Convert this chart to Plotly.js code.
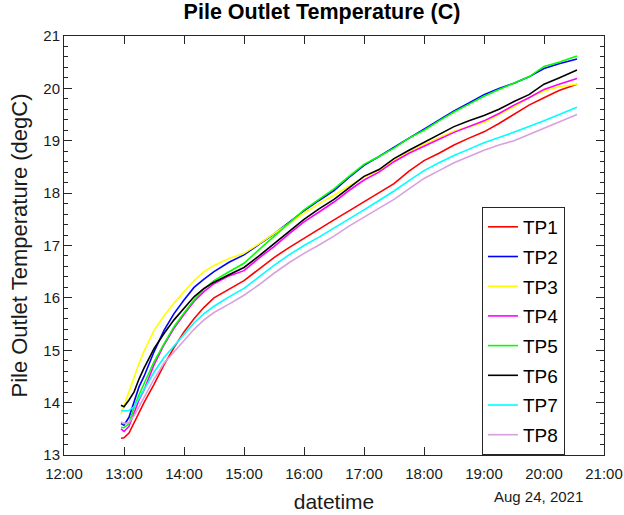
<!DOCTYPE html>
<html>
<head>
<meta charset="utf-8">
<script src="https://cdn.plot.ly/plotly-3.0.1.min.js"></script>
<style>html,body{margin:0;padding:0;background:#fff;}#chart{width:624px;height:515px;}</style>
</head>
<body>
<div id="chart"></div>
<script>
const times = ["12:57","13:00","13:05","13:10","13:15","13:20","13:30","13:40","13:50","14:00","14:10","14:20","14:30","14:45","15:00","15:15","15:30","15:45","16:00","16:15","16:30","16:45","17:00","17:15","17:30","17:45","18:00","18:15","18:30","18:45","19:00","19:15","19:30","19:45","20:00","20:15","20:33"];
const seriesNames = ["TP1","TP2","TP3","TP4","TP5","TP6","TP7","TP8"];
const seriesColors = ["#ff0000","#0000ff","#ffff00","#ff00ff","#00ff00","#000000","#00ffff","#d9a0de"];
const TP1 = [13.32,13.33,13.42,13.62,13.80,14.00,14.35,14.72,15.05,15.35,15.60,15.82,16.00,16.17,16.33,16.55,16.77,16.96,17.14,17.31,17.49,17.66,17.83,18.00,18.18,18.42,18.62,18.76,18.92,19.05,19.17,19.33,19.50,19.68,19.82,19.96,20.08];
const TP2 = [13.60,13.57,13.72,14.02,14.30,14.50,14.97,15.38,15.70,15.96,16.20,16.36,16.50,16.68,16.82,17.02,17.22,17.44,17.66,17.86,18.05,18.30,18.53,18.70,18.88,19.05,19.22,19.40,19.57,19.72,19.88,20.00,20.10,20.22,20.38,20.47,20.56];
const TP3 = [13.78,13.95,14.20,14.48,14.75,14.98,15.38,15.66,15.90,16.12,16.33,16.50,16.62,16.75,16.85,17.03,17.22,17.42,17.62,17.80,17.96,18.14,18.31,18.43,18.62,18.78,18.93,19.06,19.18,19.27,19.35,19.50,19.65,19.82,19.95,20.03,20.08];
const TP4 = [13.50,13.45,13.55,13.82,14.05,14.24,14.72,15.10,15.42,15.68,15.93,16.12,16.27,16.42,16.52,16.76,16.98,17.22,17.45,17.64,17.83,18.05,18.25,18.40,18.60,18.76,18.90,19.03,19.16,19.27,19.38,19.52,19.68,19.82,19.98,20.08,20.19];
const TP5 = [13.53,13.52,13.60,13.90,14.15,14.37,14.78,15.12,15.45,15.71,15.96,16.17,16.33,16.50,16.66,16.92,17.17,17.42,17.68,17.88,18.08,18.32,18.55,18.70,18.86,19.05,19.20,19.38,19.55,19.70,19.85,19.98,20.10,20.22,20.42,20.50,20.62];
const TP6 = [13.95,13.92,14.05,14.20,14.45,14.66,15.03,15.32,15.58,15.80,16.02,16.18,16.30,16.44,16.58,16.80,17.03,17.27,17.50,17.70,17.88,18.10,18.32,18.45,18.66,18.82,18.97,19.12,19.27,19.38,19.48,19.60,19.75,19.88,20.08,20.20,20.35];
const TP7 = [13.85,13.84,13.85,13.92,14.08,14.25,14.58,14.86,15.08,15.30,15.52,15.70,15.84,16.02,16.18,16.40,16.62,16.82,17.00,17.16,17.33,17.50,17.68,17.86,18.04,18.24,18.43,18.58,18.72,18.84,18.96,19.06,19.16,19.27,19.38,19.50,19.64];
const TP8 = [13.63,13.60,13.62,13.75,13.92,14.10,14.45,14.75,14.97,15.18,15.40,15.58,15.72,15.88,16.05,16.25,16.47,16.67,16.85,17.01,17.18,17.37,17.54,17.70,17.88,18.08,18.28,18.43,18.58,18.70,18.82,18.92,19.00,19.12,19.24,19.36,19.50];
const seriesValues = [TP1,TP2,TP3,TP4,TP5,TP6,TP7,TP8];
const xTickLabels = ["12:00","13:00","14:00","15:00","16:00","17:00","18:00","19:00","20:00","21:00"];
const dateLabel = "Aug 24, 2021";

const x = times.map(t => "2021-08-24 " + t);
const traces = seriesNames.map((n, i) => ({
  type: "scatter", mode: "lines", name: n, x: x, y: seriesValues[i],
  legendgroup: n,
  line: {color: seriesColors[i], width: 1.6}
}));

const axisColor = "#262626";
const layout = {
  width: 624, height: 515,
  margin: {l: 64, r: 20, t: 36, b: 60},
  paper_bgcolor: "#fff", plot_bgcolor: "#fff",
  font: {family: "Liberation Sans, Arial, sans-serif", color: "#000", size: 15},
  title: {text: "<b>Pile Outlet Temperature (C)</b>", font: {size: 21.5, color: "#000"}, x: 0.516, xanchor: "center", y: 0.992, yanchor: "top"},
  showlegend: true,
  legend: {x: 0.774, y: 0.592, xanchor: "left", yanchor: "top", bgcolor: "#fff",
    bordercolor: axisColor, borderwidth: 1, font: {size: 19, color: "#000"}, tracegroupgap: 2},
  xaxis: {
    type: "date",
    range: ["2021-08-24 12:00", "2021-08-24 21:00"],
    tickvals: xTickLabels.map(t => "2021-08-24 " + t),
    ticktext: xTickLabels,
    ticks: "inside", ticklen: 8, tickcolor: axisColor, tickwidth: 1,
    ticklabelstandoff: 5,
    showline: true, linecolor: axisColor, linewidth: 1, mirror: "allticks",
    showgrid: false, zeroline: false,
    tickfont: {size: 15, color: "#1a1a1a"},
    title: {text: "datetime", font: {size: 21, color: "#1a1a1a"}, standoff: 13}
  },
  yaxis: {
    range: [13, 21], dtick: 1, tick0: 13,
    ticks: "inside", ticklen: 8, tickcolor: axisColor, tickwidth: 1,
    minor: {dtick: 0.2, ticks: "inside", ticklen: 4, tickcolor: axisColor, showgrid: false},
    showline: true, linecolor: axisColor, linewidth: 1, mirror: "allticks",
    showgrid: false, zeroline: false,
    tickfont: {size: 15, color: "#1a1a1a"},
    title: {text: "Pile Outlet Temperature (degC)", font: {size: 22, color: "#1a1a1a"}, standoff: 9}
  },
  annotations: [{
    text: dateLabel, xref: "paper", yref: "paper", x: 0.965, y: -0.075,
    xanchor: "right", yanchor: "top", showarrow: false, font: {size: 15, color: "#1a1a1a"}
  }]
};
Plotly.newPlot("chart", traces, layout, {displayModeBar: false, staticPlot: true});
</script>
</body>
</html>
